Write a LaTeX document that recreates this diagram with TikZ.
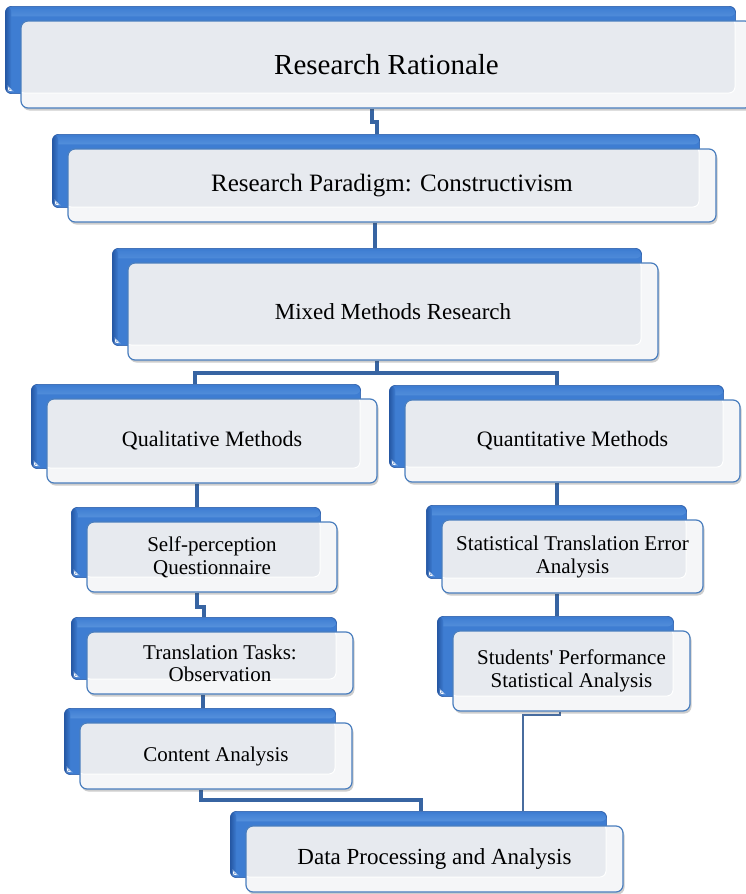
\documentclass[tikz,border=0pt]{standalone}
\usepackage{fontspec}
\setmainfont{Liberation Serif}
\usetikzlibrary{calc,shadows,fit}

\pgfdeclarelayer{conn}
\pgfdeclarelayer{back}
\pgfsetlayers{conn,back,main}

\definecolor{linkblue}{RGB}{55,100,162}
\definecolor{thinlink}{RGB}{72,108,158}
\definecolor{frontedge}{RGB}{74,126,190}
\definecolor{frontlight}{RGB}{245,246,248}
\definecolor{frontgray}{RGB}{231,234,239}
\definecolor{backmid}{RGB}{62,125,210}
\definecolor{backdark}{RGB}{38,88,165}
\definecolor{backhi}{RGB}{140,192,244}

\tikzset{
  front/.style={draw=frontedge, line width=1.2pt, rounded corners=7pt,
    fill=frontlight, align=center, inner sep=0pt, text=black,
    drop shadow={shadow xshift=1.5pt, shadow yshift=-2.5pt, opacity=.28, fill=black!70},
    path picture={
      \path[fill=frontgray, draw=white, line width=1pt, rounded corners=6pt]
        ([shift={(-3pt,3pt)}]path picture bounding box.north west) rectangle
        ([shift={(-17pt,15pt)}]path picture bounding box.south east);}},
  backbox/.style={rounded corners=6pt, fill=backmid, draw=backdark,
    line width=.6pt, inner sep=0pt,
    path picture={
      \shade[top color=backmid, bottom color=backmid, middle color=backhi]
        ([yshift=-2pt]path picture bounding box.north west) rectangle
        ([yshift=-10pt]path picture bounding box.north east);
      \shade[left color=backdark, right color=backmid]
        (path picture bounding box.south west) rectangle
        ([xshift=6pt]path picture bounding box.north west);
      \fill[white] ([shift={(2.5pt,2.5pt)}]path picture bounding box.south west)
        -- ++(5pt,0pt) -- ++(-5pt,5pt) -- cycle;}},
  link/.style={draw=linkblue, line width=3.5pt},
  thin link/.style={draw=thinlink, line width=1.2pt}
}

% \tier[font]{name}{centre}{width}{height}{text}: front panel with its blue tab behind
\newcommand\tier[6][]{%
  \node[front, minimum width=#4pt, minimum height=#5pt, #1] (#2) at (#3) {#6};
  \begin{pgfonlayer}{back}
    \node[backbox, fit={([shift={(-15,-14)}]#2.north west) ([shift={(-17,-15)}]#2.south east)}] (#2b) {};
  \end{pgfonlayer}}

\begin{document}
\begin{tikzpicture}[x=1pt,y=-1pt]
\useasboundingbox (0,0) rectangle (746,894);
\begin{pgfonlayer}{conn}
  \fill[white] (0,0) rectangle (746,894);
\end{pgfonlayer}

\tier[font=\fontsize{29}{33}\selectfont]{RR}{386.5,64.5}{731}{87}{Research Rationale}
\tier[font=\fontsize{25}{28}\selectfont]{RP}{392,185.5}{648}{73}{Research Paradigm: Constructivism}
\tier[font=\fontsize{23}{26}\selectfont]{MM}{393,311.5}{530}{97}{Mixed Methods Research}
\tier[font=\fontsize{22}{25}\selectfont]{QL}{212,441}{330}{84}{Qualitative Methods}
\tier[font=\fontsize{22}{25}\selectfont]{QN}{572.5,441}{335}{82}{Quantitative Methods}
\tier[font=\fontsize{21}{23}\selectfont]{SP}{212,557}{250}{70}{Self-perception\\Questionnaire}
\tier[font=\fontsize{21}{22}\selectfont]{TT}{220,663}{266}{62}{Translation Tasks:\\Observation}
\tier[font=\fontsize{21}{23}\selectfont]{CA}{216,756}{272}{66}{Content Analysis}
\tier[font=\fontsize{21}{23}\selectfont]{ST}{572.5,556.5}{261}{73}{Statistical Translation Error\\Analysis}
\tier[font=\fontsize{21}{23}\selectfont]{SPF}{571.5,671}{237}{80}{Students\textquotesingle{} Performance\\Statistical Analysis}
\tier[font=\fontsize{23}{26}\selectfont]{DP}{434.5,859}{377}{66}{Data Processing and Analysis}

\begin{pgfonlayer}{conn}
  \draw[link] (RR.south -| 372,0) -- (372,122) -- (377,122) -- (RPb.north -| 377,0);
  \draw[link] (RP.south -| 375,0) -- (MMb.north -| 375,0);
  \draw[link] (MM.south -| 377,0) -- (377,373);
  \draw[link] (QLb.north -| 195,0) -- (195,373) -- (557,373) -- (QNb.north -| 557,0);
  \draw[link] (QL.south -| 197,0) -- (SPb.north -| 197,0);
  \draw[link] (SP.south -| 197,0) -- (197,607) -- (204,607) -- (TTb.north -| 204,0);
  \draw[link] (TT.south -| 203,0) -- (CAb.north -| 203,0);
  \draw[link] (CA.south -| 201,0) -- (201,800) -- (421,800) -- (DPb.north -| 421,0);
  \draw[link] (QN.south -| 557,0) -- (STb.north -| 557,0);
  \draw[link] (ST.south -| 557,0) -- (SPFb.north -| 557,0);
  \draw[thin link] (SPF.south -| 560,0) -- (560,715) -- (523,715) -- (DPb.north -| 523,0);
\end{pgfonlayer}
\end{tikzpicture}
\end{document}
